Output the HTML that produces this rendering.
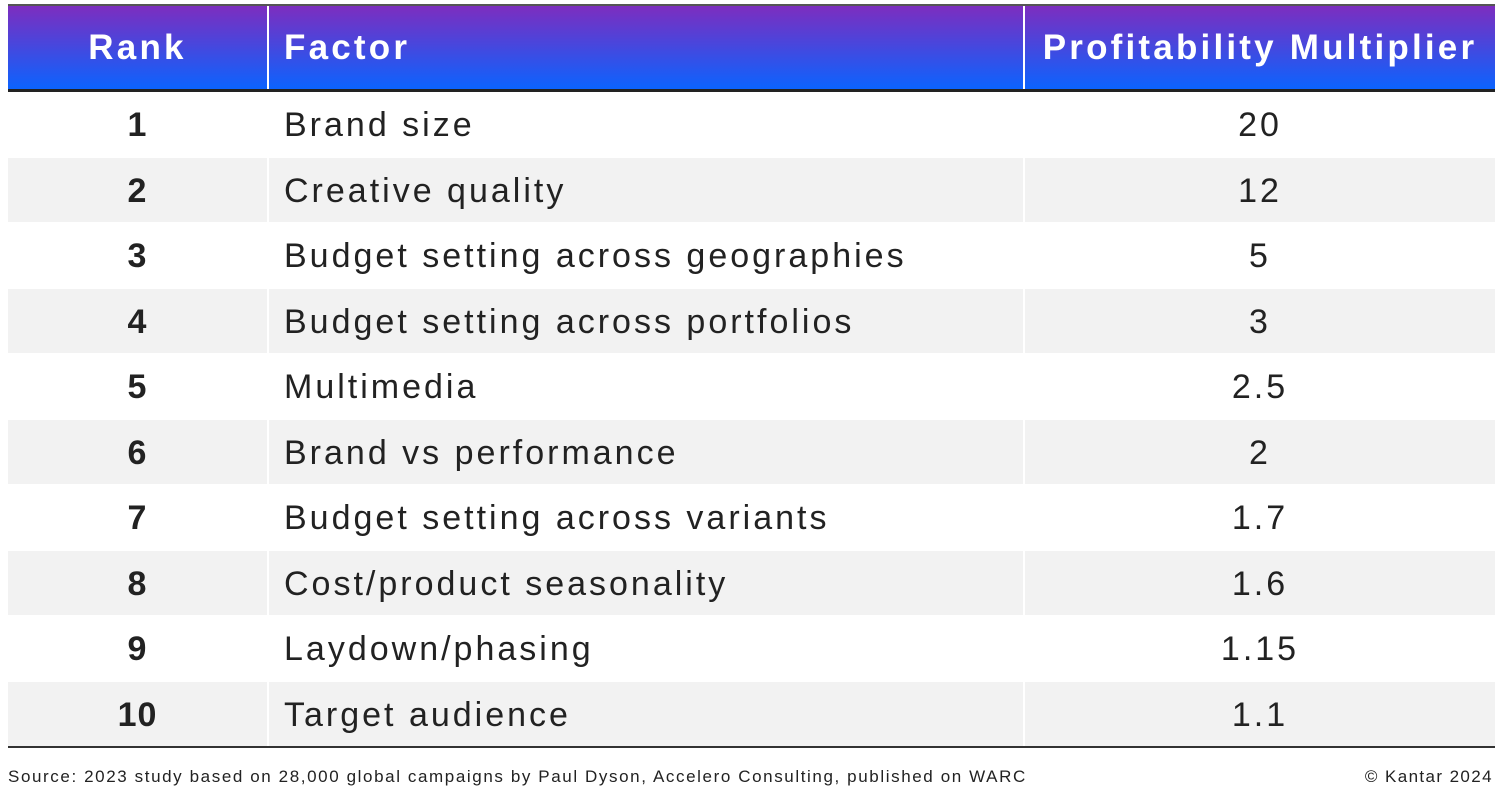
<!DOCTYPE html>
<html><head><meta charset="utf-8"><style>
body{margin:0;width:1500px;height:800px;background:#fff;font-family:"Liberation Sans",sans-serif;position:relative;overflow:hidden;color:#1a1a1a}
.a{position:absolute}
.hd{top:6px;height:84px;background:linear-gradient(#7d2dbf,#0a64ff);color:#fff;font-weight:bold;font-size:35px;line-height:84px;letter-spacing:3.2px}
.c{position:absolute;font-size:34px;line-height:66px;height:64px;letter-spacing:3px;color:#222}
.g{background:#f2f2f2}
</style></head><body>
<div class="a" style="left:8px;top:4px;width:1487px;height:2px;background:#555"></div>
<div class="a hd" style="left:8px;width:259px;text-align:center">Rank</div>
<div class="a hd" style="left:269px;width:754px;padding-left:0"><span style="margin-left:15px">Factor</span></div>
<div class="a hd" style="left:1025px;width:470px;text-align:center">Profitability Multiplier</div>
<div class="a" style="left:8px;top:89px;width:1487px;height:3px;background:#222"></div>
<div id="rows"></div>
<div class="a" style="left:8px;top:746px;width:1487px;height:2px;background:#333"></div>
<div class="a" style="left:8px;top:767px;font-size:17px;color:#222;letter-spacing:1.6px">Source: 2023 study based on 28,000 global campaigns by Paul Dyson, Accelero Consulting, published on WARC</div>
<div class="a" style="right:7px;top:767px;font-size:17px;color:#222;letter-spacing:1.4px">© Kantar 2024</div>
<script>
var d=[["1","Brand size","20"],["2","Creative quality","12"],["3","Budget setting across geographies","5"],["4","Budget setting across portfolios","3"],["5","Multimedia","2.5"],["6","Brand vs performance","2"],["7","Budget setting across variants","1.7"],["8","Cost/product seasonality","1.6"],["9","Laydown/phasing","1.15"],["10","Target audience","1.1"]];
var h="";
d.forEach(function(r,i){var t=92+i*65.5;var g=i%2?" g":"";
h+='<div class="c'+g+'" style="left:8px;top:'+t+'px;width:259px;text-align:center;font-weight:bold;letter-spacing:1px">'+r[0]+'</div>';
h+='<div class="c'+g+'" style="left:269px;top:'+t+'px;width:739px;padding-left:15px">'+r[1]+'</div>';
h+='<div class="c'+g+'" style="left:1025px;top:'+t+'px;width:470px;text-align:center">'+r[2]+'</div>';});
document.getElementById("rows").innerHTML=h;
</script>
</body></html>
